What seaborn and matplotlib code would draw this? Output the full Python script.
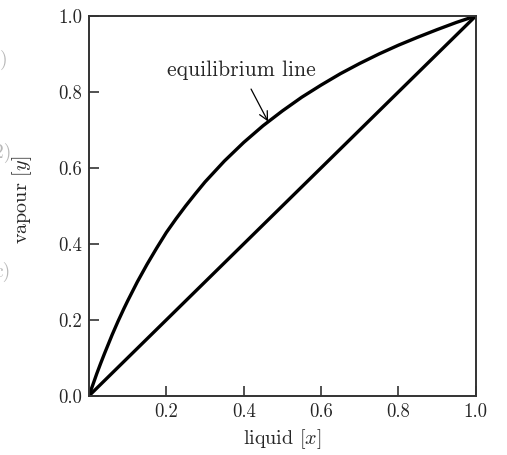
import matplotlib
matplotlib.use("Agg")
import matplotlib.pyplot as plt
import seaborn as sns
import pandas as pd

# values
liquid_x = [0.0, 0.005, 0.01, 0.02, 0.03, 0.04, 0.05, 0.06, 0.075, 0.09, 0.1, 0.125,
            0.15, 0.175, 0.2, 0.225, 0.25, 0.275, 0.3, 0.35, 0.4, 0.45, 0.5, 0.55,
            0.6, 0.65, 0.7, 0.75, 0.8, 0.85, 0.9, 0.95, 1.0]
vapour_y = [0.0, 0.015, 0.029, 0.058, 0.085, 0.111, 0.136, 0.161, 0.196, 0.229, 0.25, 0.3,
            0.346, 0.389, 0.43, 0.466, 0.5, 0.532, 0.563, 0.618, 0.667, 0.711, 0.75, 0.786,
            0.818, 0.848, 0.875, 0.9, 0.923, 0.944, 0.964, 0.983, 1.0]
diag_x = [0.0, 1.0]
diag_y = [0.0, 1.0]

xtick_vals = [0.2, 0.4, 0.6, 0.8, 1.0]
xtick_labels = ["0.2", "0.4", "0.6", "0.8", "1.0"]
ytick_vals = [0.0, 0.2, 0.4, 0.6, 0.8, 1.0]
ytick_labels = ["0.0", "0.2", "0.4", "0.6", "0.8", "1.0"]

eq = pd.DataFrame({"x": liquid_x, "y": vapour_y})
diag = pd.DataFrame({"x": diag_x, "y": diag_y})

sns.set_style("white")
plt.rcParams["font.family"] = ["cmr10", "DejaVu Serif"]
plt.rcParams["mathtext.fontset"] = "cm"
plt.rcParams["axes.formatter.use_mathtext"] = True

fig = plt.figure(figsize=(5.07, 4.55), dpi=100)
ax = fig.add_axes([0.1755, 0.130, 0.763, 0.835])

sns.lineplot(data=eq, x="x", y="y", ax=ax, color="black", lw=2.4, sort=False)
sns.lineplot(data=diag, x="x", y="y", ax=ax, color="black", lw=2.4, sort=False)

ax.set_xlim(0, 1)
ax.set_ylim(0, 1)
ax.set_xticks(xtick_vals)
ax.set_xticklabels(xtick_labels)
ax.set_yticks(ytick_vals)
ax.set_yticklabels(ytick_labels)
ax.tick_params(direction="in", length=7, width=1.2, color="#333333",
               labelsize=13.5, pad=5, top=False, right=False, bottom=True, left=True)

for sp in ax.spines.values():
    sp.set_color("#333333")
    sp.set_linewidth(1.4)

ax.set_xlabel("liquid $[x]$", fontsize=14.5)
ax.set_ylabel("vapour $[y]$", fontsize=14.5)
ax.xaxis.set_label_coords(0.5, -0.082)
ax.yaxis.set_label_coords(-0.142, 0.515)

ax.annotate("equilibrium line", xy=(0.463, 0.722), xytext=(0.393, 0.858),
            fontsize=15.5, ha="center", va="center",
            arrowprops=dict(arrowstyle="->", color="black", lw=0.9,
                            shrinkA=5, shrinkB=0))

# faint leftovers at the left edge of the picture
for lbl, xfig, ypix in [(")", 0.0, 60), ("2)", -0.012, 153), ("c)", -0.012, 272)]:
    fig.text(xfig, 1 - ypix / 455, lbl, color="#b8b8b8",
             fontsize=14, ha="left", va="center")

fig.savefig("out.png", dpi=100)
